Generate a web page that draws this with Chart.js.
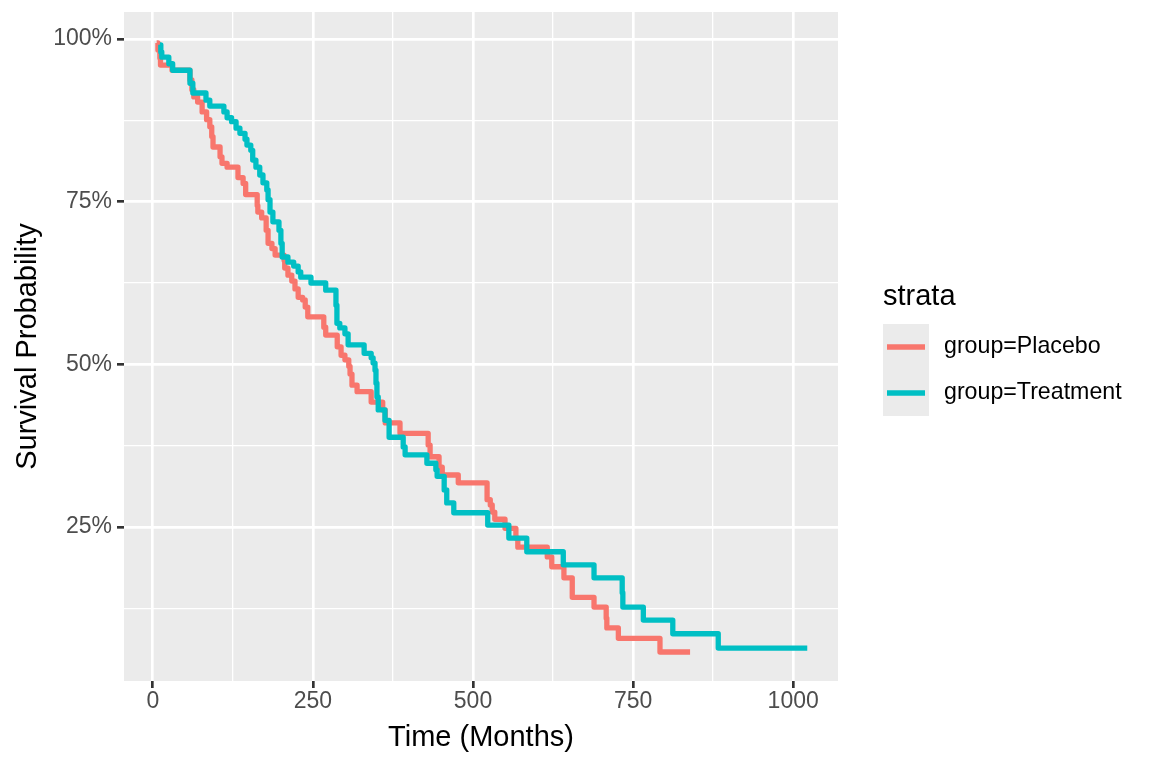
<!DOCTYPE html>
<html><head><meta charset="utf-8">
<script src="https://cdn.jsdelivr.net/npm/chart.js@4.4.1/dist/chart.umd.min.js"></script>
<style>html,body{margin:0;padding:0;background:#fff}canvas{display:block}</style>
</head><body>
<canvas id="c" width="1152" height="768"></canvas>
<script>
const legendTitle = 'strata';
const groups = ['group=Placebo', 'group=Treatment'];
const xTitle = 'Time (Months)';
const yTitle = 'Survival Probability';

const placeboTime = [6, 8, 11, 12, 30, 58, 61, 64, 70, 77, 84, 89, 92, 94, 105, 108, 116, 133, 141, 145, 163, 164, 170, 177, 180, 186, 191, 205, 206, 211, 217, 222, 227, 234, 238, 242, 267, 270, 288, 294, 300, 306, 308, 311, 319, 341, 359, 363, 386, 430, 433, 447, 452, 477, 522, 527, 530, 534, 550, 567, 570, 616, 623, 642, 655, 689, 708, 709, 727, 792, 839];
const placeboSurv = [99.4, 98.3, 97.1, 96.0, 95.2, 93.7, 92.2, 91.1, 90.3, 88.8, 87.6, 86.5, 85.0, 83.4, 81.9, 80.9, 80.3, 78.7, 77.8, 76.1, 74.4, 73.4, 72.5, 70.6, 68.6, 67.8, 66.8, 66.0, 64.8, 63.7, 62.8, 61.6, 60.3, 59.9, 58.8, 57.3, 55.7, 54.5, 52.7, 51.4, 50.7, 49.7, 48.5, 46.8, 45.8, 44.2, 43.0, 41.0, 39.4, 37.6, 35.8, 34.2, 33.0, 31.8, 29.2, 28.4, 27.3, 26.2, 24.8, 23.3, 21.9, 20.4, 18.9, 17.2, 14.2, 12.7, 11.0, 9.5, 7.9, 5.8, 5.8];

const treatTime = [11, 12.5, 14, 25, 31, 58, 62.5, 83, 89, 111, 116, 123, 130, 136, 144, 147, 153, 156, 161, 167, 172, 178, 180, 183, 187.5, 197, 200, 202, 211, 220, 227, 231, 247, 270, 286, 287.5, 292, 300, 305, 330, 341, 344, 347, 348.5, 350, 352, 362.5, 369, 391, 394, 428, 442, 444, 455, 459, 470, 523, 556, 584, 641, 689, 733, 734, 766, 812, 883, 1022];
const treatSurv = [99.1, 98.0, 97.2, 96.2, 95.2, 93.2, 91.7, 90.6, 89.7, 88.8, 87.9, 87.3, 86.3, 85.5, 84.6, 83.7, 82.9, 81.4, 80.3, 79.1, 77.9, 76.8, 75.3, 73.4, 71.9, 70.6, 68.6, 66.5, 65.7, 65.1, 64.2, 63.4, 62.5, 61.4, 59.1, 56.3, 55.6, 54.7, 53.0, 51.7, 51.0, 50.2, 49.1, 47.1, 45.0, 43.0, 41.4, 38.8, 37.3, 36.1, 34.8, 33.8, 32.8, 30.7, 28.7, 27.2, 25.3, 23.3, 21.2, 19.2, 17.2, 14.9, 12.7, 10.7, 8.6, 6.4, 6.4];

const xTicks = [0, 250, 500, 750, 1000];
const xTickLabels = ['0', '250', '500', '750', '1000'];
const xMinor = [125, 375, 625, 875];
const yTicks = [25, 50, 75, 100];
const yTickLabels = ['25%', '50%', '75%', '100%'];
const yMinor = [12.5, 37.5, 62.5, 87.5];
const colors = ['#F8766D', '#00BFC4'];

const FONT = '"Liberation Sans", Arial, Helvetica, sans-serif';
const pts = (t, s) => t.map((v, i) => ({ x: v, y: s[i] }));

const panelBg = {
  id: 'panelBg',
  beforeDraw(chart) {
    const { ctx, chartArea: a } = chart;
    ctx.save();
    ctx.fillStyle = '#EBEBEB';
    ctx.fillRect(a.left, a.top, a.right - a.left, a.bottom - a.top);
    ctx.restore();
  }
};

const kmLegend = {
  id: 'kmLegend',
  afterDraw(chart) {
    const ctx = chart.ctx;
    ctx.save();
    ctx.fillStyle = '#000';
    ctx.font = '29px ' + FONT;
    ctx.textAlign = 'left';
    ctx.textBaseline = 'alphabetic';
    ctx.fillText(legendTitle, 883, 305);
    ctx.fillStyle = '#EBEBEB';
    ctx.fillRect(883, 324, 46, 92);
    const ys = [347, 393];
    groups.forEach((g, i) => {
      ctx.strokeStyle = colors[i];
      ctx.lineWidth = 5.3;
      ctx.lineCap = 'butt';
      ctx.beginPath();
      ctx.moveTo(887, ys[i]);
      ctx.lineTo(925, ys[i]);
      ctx.stroke();
      ctx.fillStyle = '#000';
      ctx.font = '23.2px ' + FONT;
      ctx.textBaseline = 'middle';
      ctx.fillText(g, 944, ys[i]);
    });
    ctx.restore();
  }
};

const tickFont = { family: FONT, size: 23 };
const titleFont = { family: FONT, size: 29 };
const noPadV = s => { s.paddingTop = 0; s.paddingBottom = 0; };
const noPadH = s => { s.paddingLeft = 0; s.paddingRight = 0; };

new Chart(document.getElementById('c'), {
  type: 'line',
  data: {
    datasets: [
      { label: groups[0], data: pts(placeboTime, placeboSurv), borderColor: colors[0], backgroundColor: colors[0],
        borderWidth: 5.3, stepped: 'before', pointRadius: 0, fill: false, order: 1, borderJoinStyle: 'round', borderCapStyle: 'butt' },
      { label: groups[1], data: pts(treatTime, treatSurv), borderColor: colors[1], backgroundColor: colors[1],
        borderWidth: 5.3, stepped: 'before', pointRadius: 0, fill: false, order: 0, borderJoinStyle: 'round', borderCapStyle: 'butt' }
    ]
  },
  options: {
    responsive: false,
    animation: false,
    devicePixelRatio: 1,
    layout: { padding: { top: 12, right: 314, left: 0, bottom: 0 } },
    plugins: { legend: { display: false }, tooltip: { enabled: false } },
    scales: {
      x: {
        type: 'linear', position: 'bottom', min: -45, max: 1070,
        afterBuildTicks: s => { s.ticks = xTicks.map(v => ({ value: v })); },
        afterFit: s => { s.height = 87; noPadH(s); },
        ticks: { callback: v => xTickLabels[xTicks.indexOf(v)], color: '#4D4D4D', font: tickFont, padding: 0, maxRotation: 0, autoSkip: false },
        grid: { color: '#FFFFFF', lineWidth: 2.67, tickColor: '#333333', tickWidth: 2.67, tickLength: 7, drawTicks: true },
        border: { display: false },
        title: { display: true, text: xTitle, color: '#000', font: titleFont, padding: { top: 0, bottom: 13 } }
      },
      xm: {
        type: 'linear', position: 'bottom', min: -45, max: 1070,
        afterBuildTicks: s => { s.ticks = xMinor.map(v => ({ value: v })); },
        afterFit: s => { s.height = 0; noPadH(s); },
        ticks: { display: false },
        grid: { color: '#FFFFFF', lineWidth: 1.33, drawTicks: false },
        border: { display: false }
      },
      y: {
        type: 'linear', position: 'left', min: 1.34, max: 104.15,
        afterBuildTicks: s => { s.ticks = yTicks.map(v => ({ value: v })); },
        afterFit: s => { s.width = 124; noPadV(s); },
        ticks: { callback: v => yTickLabels[yTicks.indexOf(v)], color: '#4D4D4D', font: tickFont, padding: 5, autoSkip: false },
        grid: { color: '#FFFFFF', lineWidth: 2.67, tickColor: '#333333', tickWidth: 2.67, tickLength: 7, drawTicks: true },
        border: { display: false },
        title: { display: true, text: yTitle, color: '#000', font: titleFont, padding: { top: 11, bottom: 0 } }
      },
      ym: {
        type: 'linear', position: 'left', min: 1.34, max: 104.15,
        afterBuildTicks: s => { s.ticks = yMinor.map(v => ({ value: v })); },
        afterFit: s => { s.width = 0; noPadV(s); },
        ticks: { display: false },
        grid: { color: '#FFFFFF', lineWidth: 1.33, drawTicks: false },
        border: { display: false }
      }
    }
  },
  plugins: [panelBg, kmLegend]
});
</script>
</body></html>
